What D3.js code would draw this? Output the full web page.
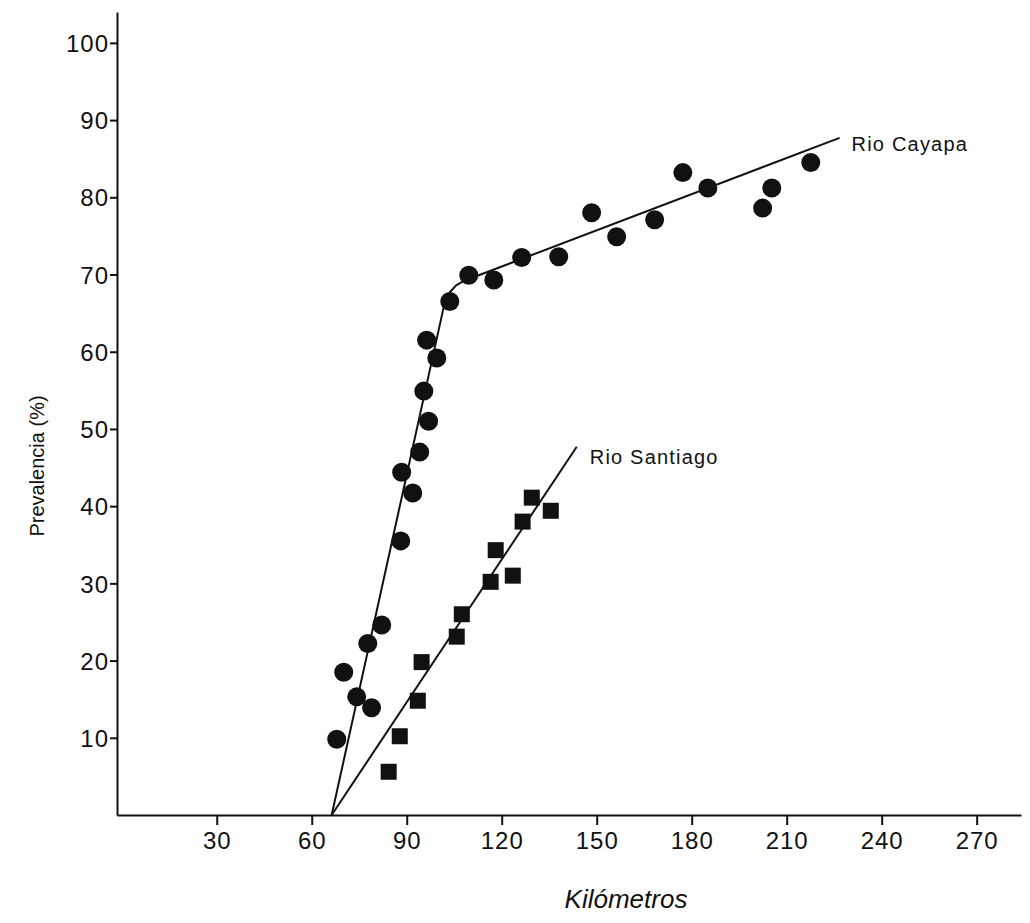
<!DOCTYPE html>
<html>
<head>
<meta charset="utf-8">
<script src="https://cdn.jsdelivr.net/npm/d3@7"></script>
<style>
  html, body { margin: 0; padding: 0; background: #fff; }
  svg { display: block; }
  .tick text { font-family: "Liberation Sans", sans-serif; font-size: 24px; fill: #111; letter-spacing: 1px; }
  .label { font-family: "Liberation Sans", sans-serif; fill: #111; }
</style>
</head>
<body>
<svg id="chart" width="1030" height="923"></svg>
<script>
// Rio Cayapa villages: distance (km) and prevalence (%)
var cayapaKm  = [67.9, 70.1, 74.2, 77.7, 78.9, 82.1, 88.1, 88.4, 91.9, 94.1, 95.4, 96.9, 96.3, 99.5, 103.6, 109.6, 117.5, 126.3, 138.0, 148.4, 156.3, 168.3, 177.2, 185.1, 202.4, 205.3, 217.6];
var cayapaPct = [9.8, 18.5, 15.3, 22.2, 13.9, 24.6, 35.5, 44.4, 41.7, 47.0, 54.9, 51.0, 61.5, 59.2, 66.5, 69.9, 69.3, 72.2, 72.3, 78.0, 74.9, 77.1, 83.2, 81.2, 78.6, 81.2, 84.5];

// Rio Santiago villages
var santiagoKm  = [84.3, 87.8, 93.5, 94.7, 105.8, 107.4, 116.5, 118.1, 123.5, 126.6, 129.5, 135.5];
var santiagoPct = [5.6, 10.2, 14.8, 19.8, 23.1, 26.0, 30.2, 34.3, 31.0, 38.0, 41.1, 39.4];

// fitted lines
var cayapaFitKm  = [66.3, 101.8, 103.6, 105.6, 108.2, 226.7];
var cayapaFitPct = [0, 66.0, 67.7, 68.6, 69.2, 87.7];
var santiagoFitKm  = [66.3, 143.7];
var santiagoFitPct = [0, 47.7];

var xTicks = [30, 60, 90, 120, 150, 180, 210, 240, 270];
var yTicks = [10, 20, 30, 40, 50, 60, 70, 80, 90, 100];

var svg = d3.select('#chart');
var x = d3.scaleLinear().domain([-1.5, 284]).range([117, 1021]);
var y = d3.scaleLinear().domain([0, 104]).range([815, 12]);

function zip(a, b) {
	return a.map(function(v, i) { return [v, b[i]]; });
}

// axes
var gx = svg.append('g').attr('transform', 'translate(0,' + y(0) + ')')
	.call(d3.axisBottom(x).tickValues(xTicks).tickSize(10).tickSizeOuter(0).tickFormat(d3.format('d')));
gx.selectAll('text').attr('y', 34).attr('dy', 0);

var gy = svg.append('g').attr('transform', 'translate(' + x(-1.5) + ',0)')
	.call(d3.axisLeft(y).tickValues(yTicks).tickSize(7).tickSizeOuter(0).tickPadding(1).tickFormat(d3.format('d')));
gy.selectAll('text').attr('dy', '0.36em');

svg.selectAll('.domain, .tick line').attr('stroke', '#111').attr('stroke-width', 2);

// fitted lines
var line = d3.line().x(function(d) { return x(d[0]); }).y(function(d) { return y(d[1]); });
svg.append('path').datum(zip(cayapaFitKm, cayapaFitPct)).attr('d', line)
	.attr('fill', 'none').attr('stroke', '#111').attr('stroke-width', 2).attr('stroke-linejoin', 'round');
svg.append('path').datum(zip(santiagoFitKm, santiagoFitPct)).attr('d', line)
	.attr('fill', 'none').attr('stroke', '#111').attr('stroke-width', 2);

// points
svg.append('g').selectAll('circle').data(zip(cayapaKm, cayapaPct)).enter().append('circle')
	.attr('cx', function(d) { return x(d[0]); })
	.attr('cy', function(d) { return y(d[1]); })
	.attr('r', 9.5).attr('fill', '#111');

var sq = 16;
svg.append('g').selectAll('rect').data(zip(santiagoKm, santiagoPct)).enter().append('rect')
	.attr('x', function(d) { return x(d[0]) - sq / 2; })
	.attr('y', function(d) { return y(d[1]) - sq / 2; })
	.attr('width', sq).attr('height', sq).attr('fill', '#111');

// series labels
svg.append('text').attr('class', 'label')
	.attr('x', x(cayapaFitKm[cayapaFitKm.length - 1]) + 12).attr('y', y(cayapaFitPct[cayapaFitPct.length - 1]) + 13)
	.style('font-size', '20px').style('letter-spacing', '1.2px').text('Rio Cayapa');
svg.append('text').attr('class', 'label')
	.attr('x', x(santiagoFitKm[1]) + 13).attr('y', y(santiagoFitPct[1]) + 17)
	.style('font-size', '20px').style('letter-spacing', '1.2px').text('Rio Santiago');

// axis titles
svg.append('text').attr('class', 'label')
	.attr('x', 626).attr('y', 908).attr('text-anchor', 'middle')
	.style('font-size', '26px').style('font-style', 'italic').text('Kilómetros');
svg.append('text').attr('class', 'label')
	.attr('transform', 'translate(44,466) rotate(-90)').attr('text-anchor', 'middle')
	.style('font-size', '20px').text('Prevalencia (%)');
</script>
</body>
</html>
